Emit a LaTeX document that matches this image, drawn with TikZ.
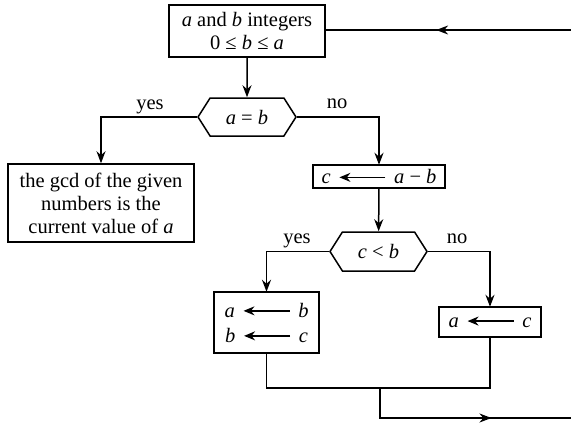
\documentclass[tikz,border=0pt]{standalone}
\usepackage{fontspec}
\setmainfont{Liberation Serif}
\usetikzlibrary{arrows.meta,shapes.symbols,decorations.markings}
\newcommand\asgarrow{\tikz[baseline=-0.3em,x=1pt,y=1pt]\draw[line width=1.5pt,-{Stealth[length=11pt,width=9pt]}] (46pt,0pt) -- (0pt,0pt);}
\begin{document}
\begin{tikzpicture}[x=1pt,y=-1pt, font=\fontsize{20.5}{23}\selectfont, line width=1.5pt,
  box/.style={draw, rectangle, inner sep=0pt, align=center},
  hexa/.style={draw, signal, signal to=west and east, signal pointer angle=115, inner sep=0pt},
  flow/.style={-{Stealth[length=12pt,width=9pt]}},
  midarrow/.style={postaction={decorate}, decoration={markings, mark=at position #1 with {\arrow{Stealth[length=12pt,width=9pt]}}}},
  lbl/.style={anchor=base, inner sep=0pt}
]
\useasboundingbox (0,0) rectangle (571,423);
\node[box, minimum width=156pt, minimum height=52pt] (top) at (247,31) {\textit{a} and \textit{b} integers\\0 ≤ \textit{b} ≤ \textit{a}};
\node[hexa, minimum width=98pt, minimum height=38pt] (h1) at (247,117) {\textit{a} = \textit{b}};
\node[box, minimum width=186pt, minimum height=78pt] (gcd) at (101,203) {the gcd of the given\\numbers is the\\current value of \textit{a}};
\node[box, minimum width=132pt, minimum height=23pt] (cab) at (379,176.5) {\textit{c}\hspace{8pt}\asgarrow\hspace{8pt}\textit{a} − \textit{b}};
\node[hexa, minimum width=97pt, minimum height=39pt] (h2) at (378.5,251.5) {\textit{c} < \textit{b}};
\node[box, minimum width=105pt, minimum height=61pt] (bl) at (266.5,322.5) {\textit{a}\hspace{8pt}\asgarrow\hspace{8pt}\textit{b}\\[2pt]\textit{b}\hspace{8pt}\asgarrow\hspace{8pt}\textit{c}};
\node[box, minimum width=102pt, minimum height=30pt] (br) at (490,322) {\textit{a}\hspace{8pt}\asgarrow\hspace{8pt}\textit{c}};
\node[lbl] (y1) at (150,109) {yes};
\node[lbl] (n1) at (337,108) {no};
\node[lbl] (y2) at (297,243) {yes};
\node[lbl] (n2) at (457,243) {no};
\coordinate (j) at (380,388);
\coordinate (endB) at (571,418);
\coordinate (startT) at (571,30);
\draw[flow] (top) -- (h1);
\draw[flow] (h1.west) -| (gcd.north);
\draw[flow] (h1.east) -| (cab.north);
\draw[flow] (cab) -- (h2);
\draw[flow] (h2.west) -| (bl.north);
\draw[flow] (h2.east) -| (br.north);
\draw (bl.south) |- (j) -| (br.south);
\draw[midarrow=0.64] (j) |- (endB);
\draw[midarrow=0.55] (startT) -- (top.east |- startT);
\end{tikzpicture}
\end{document}
